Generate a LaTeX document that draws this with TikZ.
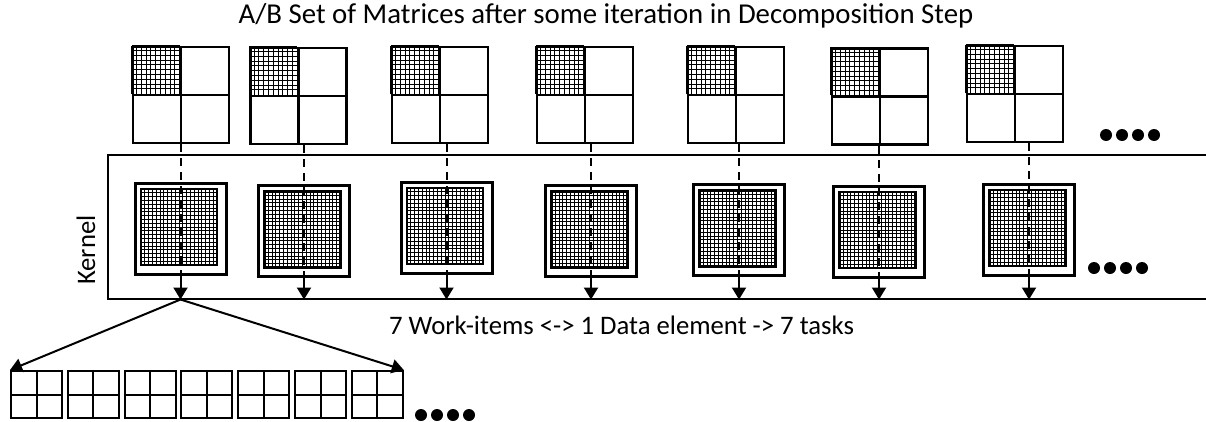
\documentclass[tikz,border=0pt]{standalone}
\usepackage{fontspec}
\setmainfont{Carlito}
\usetikzlibrary{arrows.meta, positioning, calc}

\begin{document}
\begin{tikzpicture}[
    x=1pt, y=-1pt,
    every node/.style={font=\fontsize{26.7}{30}\selectfont},
    heading/.style={font=\fontsize{28.8}{32}\selectfont},
    matbox/.style={
        rectangle,
        draw,
        line width=2.5pt,
        minimum width=96pt,
        minimum height=96pt,
        inner sep=0pt
    },
    kernbox/.style={
        rectangle,
        draw,
        line width=3pt,
        minimum width=91pt,
        minimum height=91pt,
        inner sep=0pt
    },
    taskbox/.style={
        rectangle,
        draw,
        line width=2pt,
        minimum width=51pt,
        minimum height=47pt,
        inner sep=0pt
    },
    frame/.style={
        rectangle,
        draw,
        line width=2pt,
        minimum width=1102pt,
        minimum height=144pt,
        inner sep=0pt
    },
    hatch/.style={
        line width=1pt
    },
    flow/.style={
        line width=2pt,
        -{Triangle[width=14pt,length=12pt]}
    },
    feed/.style={
        line width=2pt,
        dash pattern=on 8pt off 6pt
    }
]

\useasboundingbox (0,0) rectangle (1206,421);

% Headings
\node[heading] (title) at (606,16) {A/B Set of Matrices after some iteration in Decomposition Step};
\node[rotate=90] (kernlabel) at (86,250) {Kernel};

% Kernel frame (runs off the right edge)
\node[frame] (kernel) at (659,226.5) {};

% Matrix sets on top and work-item boxes inside the kernel
\foreach \i/\mx/\my/\kx/\ky in {1/181/95/180.5/228.5, 2/298.5/96/304/231,
        3/440/95/446.5/227.5, 4/585/95/591/231, 5/736/95/739/230,
        6/880/96.5/879/231.5, 7/1015/94/1029/229.5} {
    \node[matbox] (m\i) at (\mx,\my) {};
    \draw[hatch, step=4.8pt, shift={(m\i.north west)}] (0,0) grid (48,48);
    \draw[line width=2.5pt] (m\i.north) -- (m\i.south);
    \draw[line width=2.5pt] (m\i.west) -- (m\i.east);

    \node[kernbox] (k\i) at (\kx,\ky) {};
    \draw[hatch, step=3.8pt, shift={($(k\i.north west)+(7.5,7.5)$)}] (0,0) grid (76,76);
    \draw[line width=2.5pt, shift={($(k\i.north west)+(7.5,7.5)$)}] (0,0) rectangle (76,76);

    % data element feeding the work-item
    \draw[feed] (k\i.center |- m\i.south) -- (k\i.south);
    \draw[flow] (k\i.south) -- (k\i.south |- kernel.south);
}

% Tasks generated from one data element
\foreach \i in {1,...,7} {
    \node[taskbox] (t\i) at ({36.5+56.8*(\i-1)},394.5) {};
    \draw[line width=2pt] (t\i.north) -- (t\i.south);
    \draw[line width=2pt] (t\i.west) -- (t\i.east);
}

\coordinate (split) at (k1.south |- kernel.south);
\draw[flow] (split) -- (t1.north west);
\draw[flow] (split) -- (t7.north east);

\node (ratio) at (621.5,325) {7 Work-items <-> 1 Data element -> 7 tasks};

% Continuation dots
\foreach \d in {0,...,3} {
    \fill (1106+16*\d,135) circle (6);
    \fill (1094+16*\d,268) circle (6);
    \fill (421+16*\d,415) circle (6);
}

\end{tikzpicture}
\end{document}
